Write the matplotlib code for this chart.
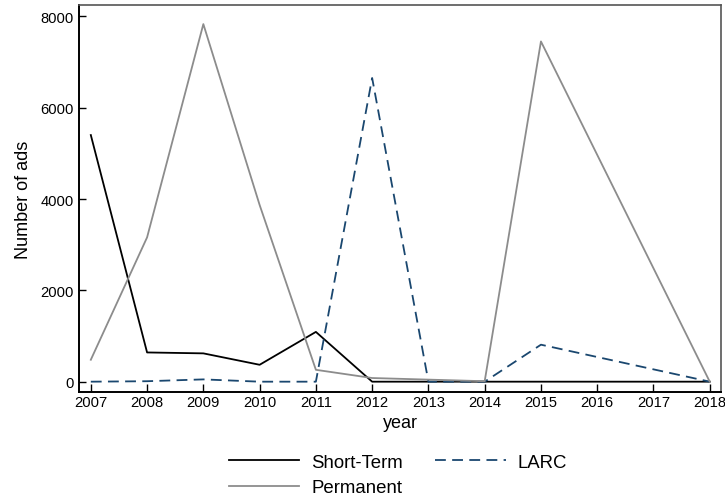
import matplotlib
matplotlib.use("Agg")
import matplotlib.pyplot as plt
import numpy as np

plt.rcParams['font.family'] = ['Liberation Sans', 'DejaVu Sans']

# data
years = [2007, 2008, 2009, 2010, 2011, 2012, 2013, 2014, 2015, 2016, 2017, 2018]
short_term = [5400, 640, 620, 370, 1090, 0, 0, 0, 0, 0, 0, 0]
# permanent / LARC have no points for 2016-2017 (connected straight through)
sparse_years = [2007, 2008, 2009, 2010, 2011, 2012, 2013, 2014, 2015, 2018]
permanent = [480, 3160, 7830, 3870, 260, 80, 45, 10, 7450, 0]
larc = [0, 10, 50, 0, 0, 6650, 0, 0, 810, 0]

fig = plt.figure(figsize=(7.25, 5.02), dpi=100)
ax = fig.add_axes([79/725, 1 - 393/502, (721 - 79)/725, (393 - 6)/502])

ax.plot(years, short_term, color='black', lw=1.3, label='Short-Term')
ax.plot(sparse_years, larc, color='#1a476f', lw=1.3, ls=(0, (6, 3.5)), label='LARC')
ax.plot(sparse_years, permanent, color='#8c8c8c', lw=1.3, label='Permanent')

ax.set_xlim(2006.79, 2018.2)
ax.set_ylim(-226, 8248)
ax.set_xticks(years)
ax.set_yticks([0, 2000, 4000, 6000, 8000])
ax.tick_params(axis='x', direction='in', length=5.5, width=1, labelsize=10.6, pad=2)
ax.tick_params(axis='y', direction='in', length=5, width=1, labelsize=10.6, pad=4)
ax.set_xlabel('year', fontsize=13, labelpad=4)
ax.set_ylabel('Number of ads', fontsize=13, labelpad=6)

for s in ['left', 'bottom']:
    ax.spines[s].set_linewidth(1.4)
    ax.spines[s].set_color('black')
for s in ['top', 'right']:
    ax.spines[s].set_linewidth(1.2)
    ax.spines[s].set_color('#555555')

# column-major fill: col 1 Short-Term, Permanent; col 2 LARC
h, l = ax.get_legend_handles_labels()
leg = fig.legend([h[0], h[2], h[1]], [l[0], l[2], l[1]], ncol=2, loc='center',
                 bbox_to_anchor=(398/725, 1 - 476/502), frameon=False, fontsize=13.4,
                 handlelength=3.8, columnspacing=1.7, labelspacing=0.48, handletextpad=0.65)

fig.savefig('out.png', dpi=100)
